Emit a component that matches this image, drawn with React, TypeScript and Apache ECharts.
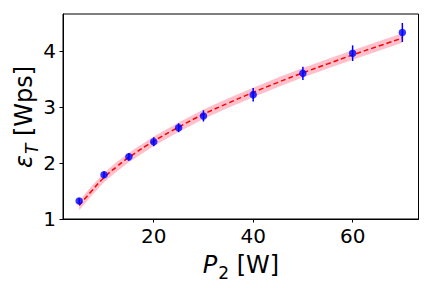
import React, { useEffect, useRef } from "react";
import * as echarts from "echarts";

const powerW = [5, 10, 15, 20, 25, 30, 40, 50, 60, 70];
const energy = [1.32, 1.79, 2.11, 2.38, 2.63, 2.84, 3.22, 3.6, 3.96, 4.33];
const energyErr = [0.05, 0.06, 0.07, 0.08, 0.08, 0.1, 0.12, 0.12, 0.14, 0.17];

const fitX = [5, 7.5, 10, 12.5, 15, 20, 25, 30, 35, 40, 45, 50, 55, 60, 65, 70];
const fitY = [1.24, 1.5, 1.74, 1.93, 2.1, 2.39, 2.64, 2.87, 3.07, 3.26, 3.44, 3.61, 3.77, 3.93, 4.08, 4.23];
const bandLow = [1.155, 1.415, 1.655, 1.845, 2.015, 2.305, 2.555, 2.785, 2.985, 3.175, 3.355, 3.525, 3.685, 3.845, 3.995, 4.145];
const bandHigh = [1.325, 1.585, 1.825, 2.015, 2.185, 2.475, 2.725, 2.955, 3.155, 3.345, 3.525, 3.695, 3.855, 4.015, 4.165, 4.315];

const xTicks = [20, 40, 60];
const yTicks = [1, 2, 3, 4];

const FONT = "DejaVu Sans";

const richLabel = (subItalic: boolean) => ({
  i: { fontFamily: FONT, fontStyle: "italic", fontSize: 24, fill: "#000", padding: [0, 0, 5, 0], verticalAlign: "bottom" },
  s: { fontFamily: FONT, fontStyle: subItalic ? "italic" : "normal", fontSize: 17, fill: "#000", padding: [0, 0, 0, 1], verticalAlign: "bottom" },
  n: { fontFamily: FONT, fontSize: 24, fill: "#000", padding: [0, 0, 5, 0], verticalAlign: "bottom" },
});

export default function App() {
  const ref = useRef<HTMLDivElement>(null);
  useEffect(() => {
    if (!ref.current) return;
    const chart = echarts.init(ref.current, null, { renderer: "svg" });
    chart.setOption({
      animation: false,
      grid: {
        left: 63,
        right: 13.5,
        top: 14,
        bottom: 69,
        show: true,
        borderColor: "#000",
        borderWidth: 1,
        backgroundColor: "transparent",
      },
      xAxis: {
        type: "value",
        min: 1.75,
        max: 73.25,
        splitLine: { show: false },
        axisLine: { show: true, lineStyle: { color: "#000", width: 1 } },
        axisTick: { show: true, customValues: xTicks, length: 3.5, lineStyle: { color: "#000" } },
        axisLabel: {
          customValues: xTicks,
          color: "#000",
          fontFamily: FONT,
          fontSize: 20,
          margin: 7,
        },
      },
      yAxis: {
        type: "value",
        min: 1,
        max: 4.66,
        splitLine: { show: false },
        axisLine: { show: true, lineStyle: { color: "#000", width: 1 } },
        axisTick: { show: true, customValues: yTicks, length: 3.5, lineStyle: { color: "#000" } },
        axisLabel: {
          customValues: yTicks,
          color: "#000",
          fontFamily: FONT,
          fontSize: 20,
          margin: 7,
        },
      },
      series: [
        {
          type: "custom",
          name: "band",
          data: [[fitX[0], fitY[0]]],
          z: 1,
          silent: true,
          renderItem: (params: any, api: any) => {
            const pts: number[][] = [];
            for (let i = 0; i < fitX.length; i++) pts.push(api.coord([fitX[i], bandHigh[i]]));
            for (let i = fitX.length - 1; i >= 0; i--) pts.push(api.coord([fitX[i], bandLow[i]]));
            return {
              type: "polygon",
              shape: { points: pts },
              style: { fill: "#ffc0cb", stroke: "none" },
            };
          },
        },
        {
          type: "line",
          name: "fit",
          data: fitX.map((x, i) => [x, fitY[i]]),
          smooth: true,
          showSymbol: false,
          z: 2,
          lineStyle: { color: "#ff0000", width: 1.5, type: [5, 3] },
        },
        {
          type: "custom",
          name: "err",
          data: powerW.map((x, i) => [x, energy[i], energyErr[i]]),
          z: 3,
          renderItem: (params: any, api: any) => {
            const x = api.value(0);
            const y = api.value(1);
            const e = api.value(2);
            const p1 = api.coord([x, y - e]);
            const p2 = api.coord([x, y + e]);
            return {
              type: "line",
              shape: { x1: p1[0], y1: p1[1], x2: p2[0], y2: p2[1] },
              style: { stroke: "#0000ff", lineWidth: 1.5 },
            };
          },
        },
        {
          type: "scatter",
          name: "data",
          data: powerW.map((x, i) => [x, energy[i]]),
          symbol: "circle",
          symbolSize: 7.5,
          z: 4,
          itemStyle: { color: "#0000ff" },
        },
      ],
      graphic: [
        {
          type: "text",
          x: 241,
          y: 267,
          style: {
            text: "{i|P}{s|2}{n| [W]}",
            align: "center",
            verticalAlign: "middle",
            fill: "#000",
            rich: richLabel(false),
          },
        },
        {
          type: "text",
          x: 26,
          y: 117,
          rotation: Math.PI / 2,
          style: {
            text: "{i|ε}{s|T}{n| [Wps]}",
            align: "center",
            verticalAlign: "middle",
            fill: "#000",
            rich: richLabel(true),
          },
        },
      ],
    });
    return () => chart.dispose();
  }, []);
  return <div ref={ref} style={{ width: 432, height: 288, position: "absolute", left: 0, top: 0 }} />;
}
